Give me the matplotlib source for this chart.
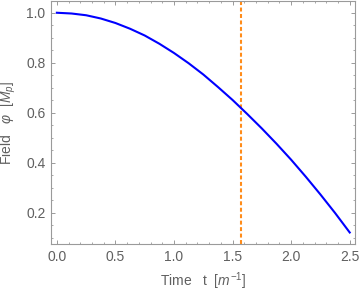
import matplotlib
matplotlib.use("Agg")
import matplotlib.pyplot as plt
from matplotlib.ticker import MultipleLocator

# values
time_t = [0.0, 0.125, 0.25, 0.375, 0.5, 0.625, 0.75, 0.875, 1.0, 1.125, 1.25,
          1.375, 1.5, 1.625, 1.75, 1.875, 2.0, 2.125, 2.25, 2.375, 2.5]
field_phi = [1.0, 0.997, 0.990, 0.977, 0.959, 0.936, 0.909, 0.876, 0.839, 0.798, 0.753,
             0.703, 0.651, 0.595, 0.537, 0.476, 0.412, 0.344, 0.273, 0.199, 0.121]
t_mark = 1.5708  # dashed vertical marker

plt.rcParams["font.family"] = ["Liberation Sans", "DejaVu Sans"]
plt.rcParams["mathtext.fontset"] = "custom"
plt.rcParams["mathtext.rm"] = "Liberation Sans"
plt.rcParams["mathtext.it"] = "Liberation Sans:italic"

frame_col = "#9a9a9a"
text_col = "#606060"

fig = plt.figure(figsize=(3.6, 2.94), dpi=100)
ax = fig.add_axes([51 / 360, 1 - 244 / 294, 304 / 360, 243 / 294])

ax.plot(time_t, field_phi, color="#0000ff", lw=1.5, zorder=3)
ax.axvline(t_mark, color="#ff8c1a", lw=1.5, ls=(0, (1.9, 1.2)), zorder=2)

ax.set_xlim(-0.05, 2.545)
ax.set_ylim(0.075, 1.047)

ax.xaxis.set_major_locator(MultipleLocator(0.5))
ax.xaxis.set_minor_locator(MultipleLocator(0.1))
ax.yaxis.set_major_locator(MultipleLocator(0.2))
ax.yaxis.set_minor_locator(MultipleLocator(0.05))
ax.xaxis.set_major_formatter(plt.FormatStrFormatter("%.1f"))
ax.yaxis.set_major_formatter(plt.FormatStrFormatter("%.1f"))

ax.tick_params(which="both", direction="in", top=True, right=True,
               color=frame_col, labelcolor=text_col, labelsize=10)
ax.tick_params(which="major", length=3.2, width=0.7, pad=4)
ax.tick_params(which="minor", length=1.7, width=0.6)

for s in ax.spines.values():
    s.set_color(frame_col)
    s.set_linewidth(0.8)

ax.set_xlabel(r"Time   t  [$m^{-1}$]", color=text_col, fontsize=10, labelpad=5)
ax.set_ylabel(r"Field   $\varphi$  [$M_p$]", color=text_col, fontsize=10, labelpad=5.5)

fig.savefig("out.png", dpi=100)
